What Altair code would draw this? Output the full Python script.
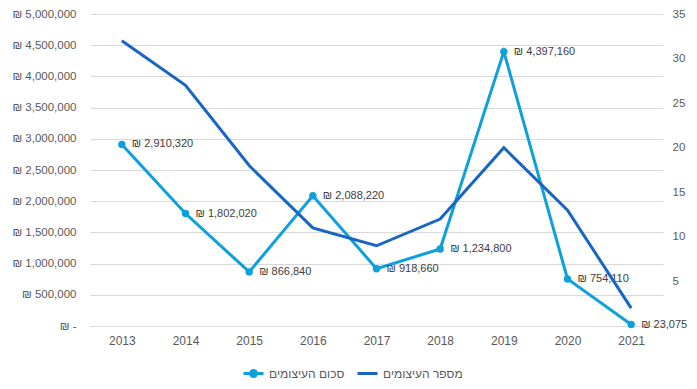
import altair as alt
import pandas as pd

years = ["2013", "2014", "2015", "2016", "2017", "2018", "2019", "2020", "2021"]
amounts = [2910320, 1802020, 866840, 2088220, 918660, 1234800, 4397160, 754110, 23075]
counts = [32, 27, 18, 11, 9, 12, 20, 13, 2]
amount_name = "סכום העיצומים"
count_name = "מספר העיצומים"
left_ticks = [0, 500000, 1000000, 1500000, 2000000, 2500000, 3000000, 3500000, 4000000, 4500000, 5000000]
right_ticks = [5, 10, 15, 20, 25, 30, 35]

LIGHT = "#0DA0DC"
DARK = "#1766C3"
FONT = "Liberation Sans"
GREY = "#595959"

df = pd.DataFrame({
    "year": years,
    "amount": amounts,
    "count": counts,
    "label": ["₪ " + f"{a:,}" for a in amounts],
    "s_amount": amount_name,
    "s_count": count_name,
})

x = alt.X("year:N", sort=years, title=None,
          scale=alt.Scale(paddingInner=0, paddingOuter=0),
          axis=alt.Axis(labelAngle=0, ticks=False, domainColor="#d9d9d9",
                        labelColor=GREY, labelFontSize=12, labelFont=FONT,
                        labelPadding=9, grid=False))

yleft = alt.Y("amount:Q", title=None,
              scale=alt.Scale(domain=[0, 5000000], nice=False),
              axis=alt.Axis(values=left_ticks, orient="left", ticks=False, domain=False,
                            grid=True, gridColor="#d9d9d9", labelColor=GREY,
                            labelFontSize=11.5, labelFont=FONT, labelPadding=14,
                            labelOverlap=False,
                            labelExpr="datum.value == 0 ? '₪ -' : '₪ ' + format(datum.value, ',')"))

amount_line = alt.Chart(df).mark_line(strokeWidth=3, point=alt.OverlayMarkDef(size=55, filled=True, color=LIGHT)).encode(
    x=x, y=yleft,
    color=alt.Color("s_amount:N", title=None,
                    scale=alt.Scale(domain=[amount_name], range=[LIGHT]),
                    legend=alt.Legend(orient="none", legendX=152, legendY=348,
                                      symbolType="M-1,0H1M-0.3,0A0.3,0.3 0 1,0 0.3,0A0.3,0.3 0 1,0 -0.3,0",
                                      symbolFillColor=LIGHT, symbolStrokeWidth=3, symbolSize=400,
                                      labelFont=FONT, labelFontSize=12, labelColor=GREY)),
)

labels = alt.Chart(df).mark_text(align="left", dx=10, fontSize=11, font=FONT, color="#404040").encode(
    x=x, y=yleft,
    text="label:N",
)

count_line = alt.Chart(df).mark_line(strokeWidth=3, color=DARK).encode(
    x=x,
    y=alt.Y("count:Q", title=None, scale=alt.Scale(domain=[0, 35], nice=False),
            axis=alt.Axis(values=right_ticks, orient="right", ticks=False, domain=False, grid=False,
                          labelColor=GREY, labelFontSize=11.5, labelFont=FONT, labelPadding=9)),
    color=alt.Color("s_count:N", title=None,
                    scale=alt.Scale(domain=[count_name], range=[DARK]),
                    legend=alt.Legend(orient="none", legendX=266, legendY=348,
                                      symbolType="stroke", symbolStrokeWidth=3, symbolSize=400,
                                      labelFont=FONT, labelFontSize=12, labelColor=GREY)),
)

left = alt.layer(amount_line, labels)
chart = alt.layer(left, count_line).resolve_scale(y="independent", color="independent").properties(
    width=573, height=312,
    autosize=alt.AutoSizeParams(type="none"),
    padding={"left": 82, "top": 6, "right": 26, "bottom": 55},
).configure_view(stroke=None)

chart.save("out.html", embed_options={"renderer": "svg", "actions": False})
